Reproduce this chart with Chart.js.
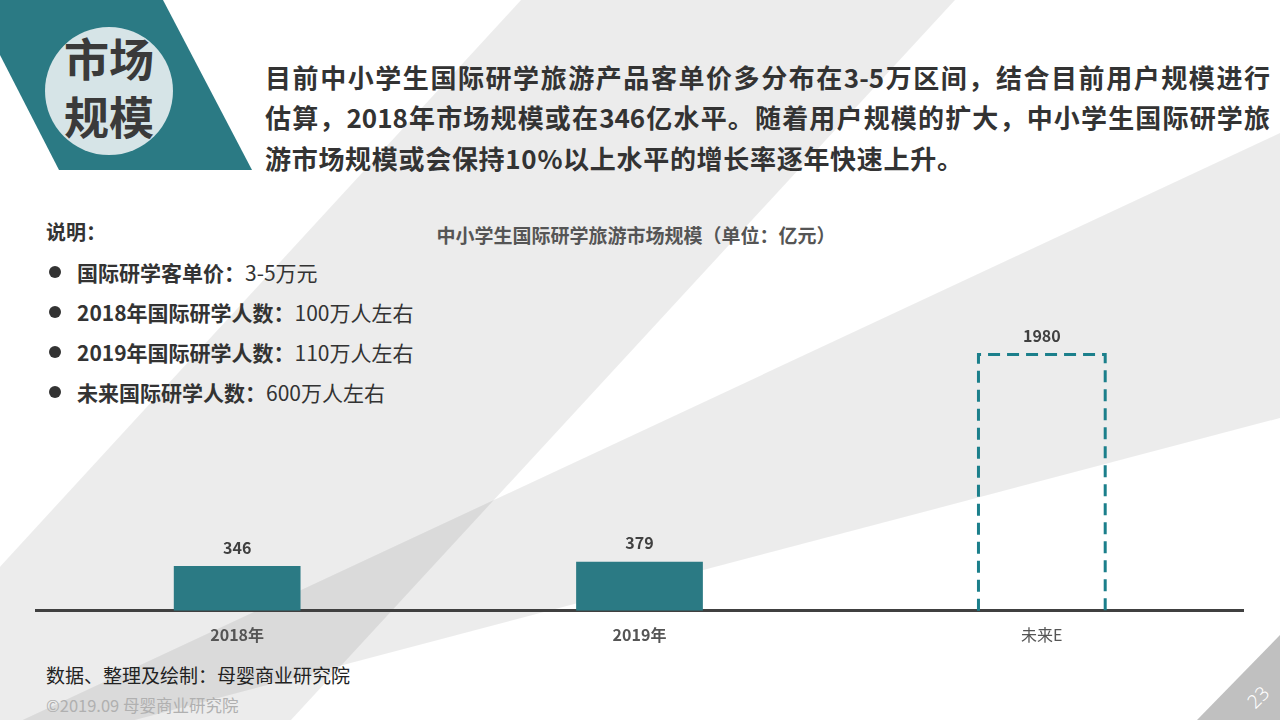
<!DOCTYPE html>
<html><head><meta charset="utf-8">
<script src="https://cdn.jsdelivr.net/npm/chart.js@4.4.1/dist/chart.umd.min.js"></script>
<style>
html,body{margin:0;padding:0;width:1280px;height:720px;overflow:hidden;background:#fff;font-family:"Noto Sans CJK SC","Noto Sans",sans-serif;}
svg#bg{position:absolute;left:0;top:0}
#chart{position:absolute;left:0;top:0}
.abs{position:absolute;white-space:nowrap}
.head{color:#333;font-weight:700;font-size:26px;line-height:40px;height:40px;left:265px}
.just{width:1005px;text-align:justify;text-align-last:justify}
.tit{left:45px;width:128px;text-align:center;font-weight:700;font-size:45px;color:#3a3a3a;line-height:56px}
.item{left:77px;font-size:21px;color:#333;line-height:28px}
.item b{font-weight:700}
.dot{position:absolute;left:49px;width:12px;height:12px;border-radius:50%;background:#333}
</style></head>
<body>
<svg id="bg" width="1280" height="720">
  <polygon points="521,0 955,0 291,720 -141,720" fill="rgba(0,0,0,0.075)"/>
  <polygon points="-123,788 1280,133 1280,418" fill="rgba(0,0,0,0.075)"/>
  <polygon points="0,0 163,0 252,170 59,170 0,55" fill="#2b7a84"/>
  <circle cx="109" cy="91" r="64" fill="#d6e4e7"/>
  <polygon points="1197,720 1280,635 1280,720" fill="#c0c0c0"/>
</svg>
<div class="abs tit" style="top:30px">市场</div>
<div class="abs tit" style="top:88px">规模</div>

<div class="abs head just" style="top:57px">目前中小学生国际研学旅游产品客单价多分布在3-5万区间，结合目前用户规模进行</div>
<div class="abs head just" style="top:97px">估算，2018年市场规模或在346亿水平。随着用户规模的扩大，中小学生国际研学旅</div>
<div class="abs head" style="top:138px;letter-spacing:0.7px">游市场规模或会保持10%以上水平的增长率逐年快速上升。</div>

<div class="abs" style="left:46px;top:218px;font-size:20px;font-weight:700;color:#333;line-height:28px">说明：</div>
<div class="dot" style="top:266px"></div>
<div class="abs item" style="top:258px"><b>国际研学客单价：</b>3-5万元</div>
<div class="dot" style="top:306px"></div>
<div class="abs item" style="top:298px"><b>2018年国际研学人数：</b>100万人左右</div>
<div class="dot" style="top:346px"></div>
<div class="abs item" style="top:338px"><b>2019年国际研学人数：</b>110万人左右</div>
<div class="dot" style="top:386px"></div>
<div class="abs item" style="top:378px"><b>未来国际研学人数：</b>600万人左右</div>

<div class="abs" style="left:436px;width:400px;text-align:center;top:222px;font-size:19px;font-weight:700;color:#555;line-height:26px">中小学生国际研学旅游市场规模（单位：亿元）</div>

<div class="abs" style="left:46px;top:662px;font-size:19px;color:#222;line-height:26px">数据、整理及绘制：母婴商业研究院</div>
<div class="abs" style="left:46px;top:694px;font-size:16.5px;color:#b0b0b0;line-height:22px">©2019.09 母婴商业研究院</div>
<div class="abs" style="left:1240px;top:685px;width:36px;text-align:center;font-size:19px;color:#fff;line-height:24px;transform:rotate(-45deg);font-family:'Noto Sans',sans-serif;font-weight:300">23</div>

<canvas id="chart" width="1280" height="720"></canvas>
<script>
const categories = ['2018年', '2019年', '未来E'];
const marketSize = [346, 379, 1980];
const isEstimate = [false, false, true];
const yMax = 2400;

const FONT = '"Noto Sans CJK SC", "Noto Sans", sans-serif';
const TEAL = '#2b7a84';
const DASH_TEAL = '#1b7f8b';

const dashedBarPlugin = {
  id: 'dashedBar',
  afterDatasetsDraw(chart) {
    const meta = chart.getDatasetMeta(0);
    const ctx = chart.ctx;
    meta.data.forEach((bar, i) => {
      if (!isEstimate[i]) return;
      const p = bar.getProps(['x', 'y', 'base', 'width'], true);
      const l = p.x - p.width / 2, r = p.x + p.width / 2;
      ctx.save();
      ctx.strokeStyle = DASH_TEAL;
      ctx.lineWidth = 3;
      ctx.setLineDash([12, 7]);
      ctx.beginPath();
      ctx.moveTo(l, p.base);
      ctx.lineTo(l, p.y);
      ctx.lineTo(r, p.y);
      ctx.lineTo(r, p.base);
      ctx.stroke();
      ctx.restore();
    });
  }
};

const valueLabelPlugin = {
  id: 'valueLabels',
  afterDatasetsDraw(chart) {
    const meta = chart.getDatasetMeta(0);
    const ctx = chart.ctx;
    ctx.save();
    ctx.font = 'bold 16px ' + FONT;
    ctx.fillStyle = '#404040';
    ctx.textAlign = 'center';
    ctx.textBaseline = 'middle';
    meta.data.forEach((bar, i) => {
      ctx.fillText(String(marketSize[i]), bar.x, bar.y - 18.5);
    });
    ctx.restore();
  }
};

new Chart(document.getElementById('chart'), {
  type: 'bar',
  data: {
    labels: categories,
    datasets: [{
      data: marketSize,
      backgroundColor: isEstimate.map(e => e ? 'rgba(0,0,0,0)' : TEAL),
      borderWidth: 0,
      barPercentage: 0.315,
      categoryPercentage: 1
    }]
  },
  options: {
    responsive: false,
    animation: false,
    devicePixelRatio: 1,
    layout: { padding: { left: 36, right: 37, top: 300, bottom: 60 } },
    plugins: { legend: { display: false }, tooltip: { enabled: false }, title: { display: false } },
    scales: {
      x: {
        grid: { display: false, drawTicks: false },
        border: { display: true, color: '#404040', width: 3 },
        ticks: {
          padding: 15,
          color: '#555',
          font: (c) => ({ family: FONT, size: 16, weight: (c.index === 2 ? 'normal' : 'bold') })
        }
      },
      y: { display: false, min: 0, max: yMax }
    }
  },
  plugins: [dashedBarPlugin, valueLabelPlugin]
});
</script>
</body></html>
